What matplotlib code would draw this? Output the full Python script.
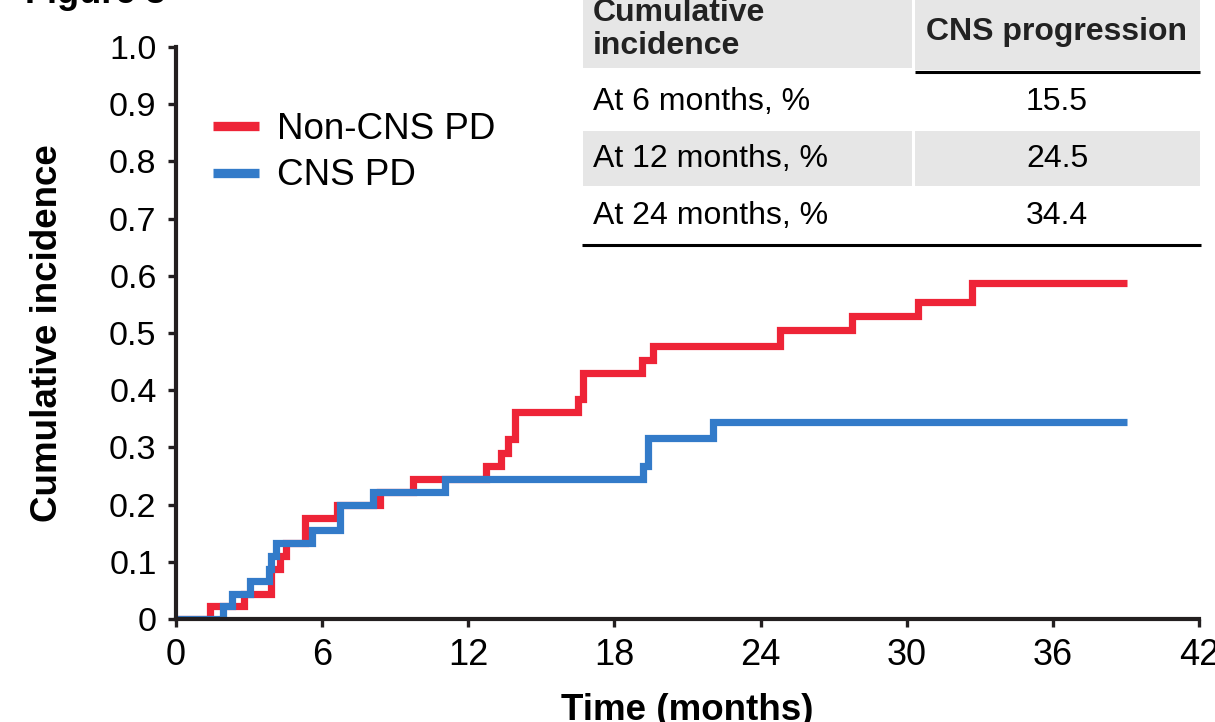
import matplotlib
matplotlib.use("Agg")
import matplotlib.pyplot as plt
from matplotlib.lines import Line2D
from matplotlib.patches import Rectangle

# ---------------- data ----------------
non_cns_times = [0, 1.38, 2.79, 3.92, 4.25, 4.52, 5.30, 6.60, 8.36, 9.74, 12.71,
                 13.35, 13.63, 13.90, 16.50, 16.72, 19.12, 19.60, 24.78, 27.77,
                 30.47, 32.70, 39.03]
non_cns_values = [0, 0.022, 0.044, 0.088, 0.110, 0.132, 0.176, 0.200, 0.222, 0.2445,
                  0.267, 0.290, 0.315, 0.362, 0.385, 0.430, 0.453, 0.4775, 0.505,
                  0.530, 0.554, 0.5875, 0.5875]

cns_times = [0, 1.92, 2.30, 3.02, 3.81, 3.92, 4.09, 5.59, 6.72, 8.10, 11.03,
             19.19, 19.38, 22.06, 39.03]
cns_values = [0, 0.022, 0.044, 0.066, 0.088, 0.110, 0.132, 0.155, 0.200, 0.222,
              0.2445, 0.267, 0.316, 0.344, 0.344]

series_labels = ["Non-CNS PD", "CNS PD"]
x_ticks = [0, 6, 12, 18, 24, 30, 36, 42]
y_ticks = [0, 0.1, 0.2, 0.3, 0.4, 0.5, 0.6, 0.7, 0.8, 0.9, 1.0]
y_tick_labels = ["0", "0.1", "0.2", "0.3", "0.4", "0.5", "0.6", "0.7", "0.8", "0.9", "1.0"]

table_header = ["Cumulative\nincidence", "CNS progression"]
table_rows = ["At 6 months, %", "At 12 months, %", "At 24 months, %"]
table_values = ["15.5", "24.5", "34.4"]

# ---------------- style ----------------
RED = "#EE2437"
BLUE = "#337BC9"
AX = "#231F20"
GRAY = "#E6E6E6"
W, H = 1215, 722

plt.rcParams["font.family"] = ["Liberation Sans", "DejaVu Sans"]

fig = plt.figure(figsize=(W / 100, H / 100), dpi=100)


def fx(x):
    return x / W


def fy(y):
    return 1 - y / H


ax = fig.add_axes([fx(176), fy(619), fx(1199) - fx(176), fy(47) - fy(619)])

ax.step(non_cns_times, non_cns_values, where="post", color=RED, lw=5.2,
        solid_joinstyle="miter", solid_capstyle="butt", zorder=3)
ax.step(cns_times, cns_values, where="post", color=BLUE, lw=5.2,
        solid_joinstyle="miter", solid_capstyle="butt", zorder=4)

ax.set_xlim(0, 42)
ax.set_ylim(0, 1.0)
ax.set_xticks(x_ticks)
ax.set_xticklabels([str(t) for t in x_ticks])
ax.set_yticks(y_ticks)
ax.set_yticklabels(y_tick_labels)

for s in ["top", "right"]:
    ax.spines[s].set_visible(False)
for s in ["left", "bottom"]:
    ax.spines[s].set_linewidth(3)
    ax.spines[s].set_color(AX)
    ax.spines[s].set_zorder(5)
ax.spines["left"].set_bounds(0, 1.0)

ax.tick_params(axis="both", direction="out", length=6, width=2.4, color=AX,
               labelcolor="black")
ax.tick_params(axis="y", pad=8, labelsize=24.5)
ax.tick_params(axis="x", pad=8, labelsize=26)

ax.set_xlabel("Time (months)", fontsize=26.5, fontweight="bold", labelpad=14)
ax.set_ylabel("Cumulative incidence", fontsize=26.5, fontweight="bold", labelpad=32)

handles = [Line2D([], [], color=RED, lw=6.7, solid_capstyle="butt"),
           Line2D([], [], color=BLUE, lw=6.7, solid_capstyle="butt")]
fig.legend(handles, series_labels, loc="upper left",
           bbox_to_anchor=(fx(213), fy(112)), frameon=False, fontsize=26.5,
           handlelength=1.25, handletextpad=0.5, labelspacing=0.31,
           borderpad=0, borderaxespad=0)

# ---------------- table ----------------
def rect(x0, y0, x1, y1, color):
    fig.add_artist(Rectangle((fx(x0), fy(y1)), fx(x1) - fx(x0), fy(y0) - fy(y1),
                             transform=fig.transFigure, facecolor=color,
                             edgecolor="none", zorder=1))


def hline(x0, x1, y, lw):
    fig.add_artist(Line2D([fx(x0), fx(x1)], [fy(y), fy(y)], transform=fig.transFigure,
                          color="black", lw=lw, solid_capstyle="butt", zorder=2))


rect(583, -10, 912, 68, GRAY)
rect(915, -10, 1200, 70, GRAY)
rect(583, 131, 912, 186, GRAY)
rect(915, 131, 1200, 186, GRAY)
hline(915, 1200, 71.5, 2.2)
hline(582, 1201, 245, 2.2)

fig.text(fx(593), fy(54), table_header[0], fontsize=23, fontweight="bold",
         color="#222222", ha="left", va="baseline", linespacing=1.12)
fig.text(fx(1057), fy(32), table_header[1], fontsize=23, fontweight="bold",
         color="#222222", ha="center", va="center")

row_centers = [102, 159, 216]
for label, val, yc in zip(table_rows, table_values, row_centers):
    fig.text(fx(593), fy(yc), label, fontsize=23, ha="left", va="center")
    fig.text(fx(1057), fy(yc), val, fontsize=23, ha="center", va="center")

fig.text(fx(25), fy(3), "Figure 3", fontsize=26, fontweight="bold",
         ha="left", va="baseline")

fig.savefig("out.png", dpi=100)
